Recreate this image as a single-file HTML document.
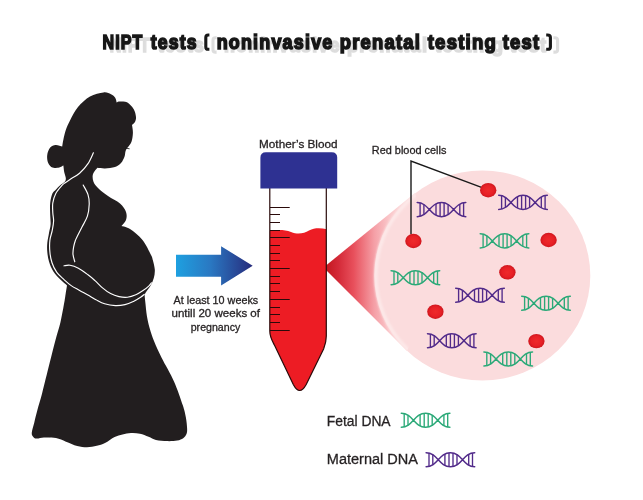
<!DOCTYPE html>
<html><head><meta charset="utf-8"><title>NIPT tests</title>
<style>html,body{margin:0;padding:0;background:#fff;}body{width:643px;height:500px;overflow:hidden;font-family:"Liberation Sans",sans-serif;}</style>
</head><body>
<svg width="643" height="500" viewBox="0 0 643 500" style="display:block;font-family:'Liberation Sans',sans-serif">
<defs>
<linearGradient id="ar" x1="0" x2="1" y1="0" y2="0"><stop offset="0" stop-color="#1ea0e0"/><stop offset="0.45" stop-color="#2a78c2"/><stop offset="1" stop-color="#272b7c"/></linearGradient>
<linearGradient id="cone" x1="324" x2="414" y1="0" y2="0" gradientUnits="userSpaceOnUse"><stop offset="0" stop-color="#c1141b"/><stop offset="0.16" stop-color="#d42a38"/><stop offset="0.33" stop-color="#e8505c"/><stop offset="0.56" stop-color="#f5a0a7"/><stop offset="0.72" stop-color="#fac6c9"/><stop offset="1" stop-color="#fde6e6"/></linearGradient>
<radialGradient id="cell" cx="0.5" cy="0.5" r="0.5"><stop offset="0" stop-color="#ee2a2b"/><stop offset="0.65" stop-color="#e82026"/><stop offset="1" stop-color="#cf171e"/></radialGradient>
<filter id="blur2" x="-5%" y="-5%" width="110%" height="110%"><feGaussianBlur stdDeviation="0.8"/></filter>
<filter id="blur" x="-5%" y="-30%" width="110%" height="160%"><feGaussianBlur stdDeviation="0.7"/></filter>
<clipPath id="coneclip"><path d="M323.5,267.5 L415,192.9 L440,275 L407.1,350.9 Z"/></clipPath>
<clipPath id="tube"><path d="M269.8,185 V331 C269.8,337 272,340.5 274.4,345 L293.3,384.5 Q299.6,396.5 306.2,384.5 L323.6,349 C325.4,344.5 326.3,341 326.3,336 V185 Z"/></clipPath>
</defs>
<rect width="643" height="500" fill="#ffffff"/>
<!-- title -->
<g filter="url(#blur)" opacity="0.9"><g transform="translate(7.2,2.8)" fill="none" stroke="#dadada" stroke-width="3.1"><path d="M209.4,35 H208.2 Q205.8,35 205.8,37.4 V46.9 Q205.8,49.3 208.2,49.3 H209.4"/><path d="M546.2,35 H547.6 Q550.4,35 550.4,37.4 V46.9 Q550.4,49.3 547.6,49.3 H546.2"/></g><text x="109.7" y="52.0" font-size="20.4" font-weight="bold" textLength="40.9" lengthAdjust="spacingAndGlyphs" letter-spacing="1.4" fill="#dadada" stroke="#dadada" stroke-width="1.6">NIPT</text><text x="157.9" y="52.0" font-size="20.4" font-weight="bold" textLength="47.1" lengthAdjust="spacingAndGlyphs" letter-spacing="1.4" fill="#dadada" stroke="#dadada" stroke-width="1.6">tests</text><text x="223.9" y="52.0" font-size="20.4" font-weight="bold" textLength="116.8" lengthAdjust="spacingAndGlyphs" letter-spacing="1.4" fill="#dadada" stroke="#dadada" stroke-width="1.6">noninvasive</text><text x="346.9" y="52.0" font-size="20.4" font-weight="bold" textLength="81.4" lengthAdjust="spacingAndGlyphs" letter-spacing="1.4" fill="#dadada" stroke="#dadada" stroke-width="1.6">prenatal</text><text x="434.9" y="52.0" font-size="20.4" font-weight="bold" textLength="69.4" lengthAdjust="spacingAndGlyphs" letter-spacing="1.4" fill="#dadada" stroke="#dadada" stroke-width="1.6">testing</text><text x="509.9" y="52.0" font-size="20.4" font-weight="bold" textLength="37.6" lengthAdjust="spacingAndGlyphs" letter-spacing="1.4" fill="#dadada" stroke="#dadada" stroke-width="1.6">test</text></g>
<g opacity="0.99"><g transform="translate(0.0,0.0)" fill="none" stroke="#151515" stroke-width="3.1"><path d="M209.4,35 H208.2 Q205.8,35 205.8,37.4 V46.9 Q205.8,49.3 208.2,49.3 H209.4"/><path d="M546.2,35 H547.6 Q550.4,35 550.4,37.4 V46.9 Q550.4,49.3 547.6,49.3 H546.2"/></g><text x="102.5" y="49.2" font-size="20.4" font-weight="bold" textLength="40.9" lengthAdjust="spacingAndGlyphs" letter-spacing="1.4" fill="#151515" stroke="#151515" stroke-width="1.6" stroke-linejoin="miter">NIPT</text><text x="150.7" y="49.2" font-size="20.4" font-weight="bold" textLength="47.1" lengthAdjust="spacingAndGlyphs" letter-spacing="1.4" fill="#151515" stroke="#151515" stroke-width="1.6" stroke-linejoin="miter">tests</text><text x="216.7" y="49.2" font-size="20.4" font-weight="bold" textLength="116.8" lengthAdjust="spacingAndGlyphs" letter-spacing="1.4" fill="#151515" stroke="#151515" stroke-width="1.6" stroke-linejoin="miter">noninvasive</text><text x="339.7" y="49.2" font-size="20.4" font-weight="bold" textLength="81.4" lengthAdjust="spacingAndGlyphs" letter-spacing="1.4" fill="#151515" stroke="#151515" stroke-width="1.6" stroke-linejoin="miter">prenatal</text><text x="427.7" y="49.2" font-size="20.4" font-weight="bold" textLength="69.4" lengthAdjust="spacingAndGlyphs" letter-spacing="1.4" fill="#151515" stroke="#151515" stroke-width="1.6" stroke-linejoin="miter">testing</text><text x="502.7" y="49.2" font-size="20.4" font-weight="bold" textLength="37.6" lengthAdjust="spacingAndGlyphs" letter-spacing="1.4" fill="#151515" stroke="#151515" stroke-width="1.6" stroke-linejoin="miter">test</text></g>
<!-- woman -->
<path d="M103.5,92.4 C107.0,92.0 109.0,93.3 111.0,94.2 C113.0,95.1 114.3,96.4 115.2,97.8 C116.1,99.2 116.4,101.6 116.6,102.4 C117.2,102.3 118.3,101.6 120.0,101.6 C121.7,101.6 124.7,101.0 127.0,102.2 C129.3,103.4 132.1,106.5 133.6,109.0 C135.1,111.5 135.8,114.7 136.0,117.0 C136.2,119.3 135.3,121.3 134.6,122.6 C133.9,123.9 132.4,124.6 132.0,125.0 C132.2,126.3 133.0,130.2 132.9,133.0 C132.8,135.8 132.3,139.6 131.4,142.0 C130.5,144.4 128.2,146.7 127.6,147.6 C127.3,148.2 126.1,149.4 125.6,151.0 C125.1,152.6 125.2,155.0 124.4,157.0 C123.6,159.0 122.6,161.3 121.0,163.0 C119.4,164.7 117.7,166.1 115.0,167.0 C112.3,167.9 107.9,168.4 105.0,168.5 C102.1,168.6 98.8,167.9 97.5,167.8 C96.8,168.8 93.7,171.7 93.0,174.0 C92.3,176.3 92.6,179.2 93.4,181.5 C94.2,183.8 95.6,185.6 98.0,188.0 C100.4,190.4 104.3,193.4 108.0,196.0 C111.7,198.6 117.0,200.8 120.0,203.5 C123.0,206.2 125.0,209.2 126.0,212.0 C127.0,214.8 126.8,217.7 126.0,220.0 C125.2,222.3 122.2,225.0 121.5,226.0 C122.9,226.5 126.5,226.7 130.0,229.0 C133.5,231.3 139.0,235.7 142.5,240.0 C146.0,244.3 149.3,251.7 151.0,255.0 C152.7,258.3 152.2,257.6 152.8,260.0 C153.4,262.4 154.6,266.6 154.8,269.6 C155.0,272.6 154.5,275.4 153.8,278.0 C153.1,280.6 152.0,283.0 150.8,285.2 C149.6,287.4 147.6,289.7 146.6,291.2 C145.6,292.7 144.9,293.9 144.6,294.4 C144.7,295.7 144.9,298.4 145.3,302.0 C145.7,305.6 146.2,311.7 146.9,316.0 C147.6,320.3 148.4,323.7 149.6,328.0 C150.8,332.3 152.2,336.7 154.2,341.6 C156.2,346.6 158.3,351.1 161.6,357.7 C164.9,364.3 170.5,373.5 174.0,381.4 C177.5,389.3 180.7,399.0 182.7,405.0 C184.7,411.0 185.2,413.6 185.9,417.5 C186.6,421.4 187.0,425.6 187.1,428.3 C187.2,431.0 187.2,432.2 186.6,433.8 C185.9,435.4 184.8,437.1 183.2,438.2 C181.6,439.3 179.9,440.0 177.2,440.5 C174.5,441.0 170.7,441.2 167.2,441.1 C163.7,441.0 159.1,440.6 156.0,439.9 C152.9,439.2 151.3,437.7 148.6,436.7 C145.9,435.7 142.9,434.3 140.0,433.7 C137.1,433.1 133.9,433.0 131.0,433.1 C128.1,433.2 125.2,433.8 122.5,434.4 C119.8,435.0 117.5,435.6 114.6,437.0 C111.7,438.4 108.0,441.5 105.0,443.0 C102.0,444.5 99.8,445.1 96.8,445.8 C93.8,446.5 90.3,447.3 87.0,447.3 C83.7,447.3 80.7,446.9 77.2,446.0 C73.7,445.1 69.5,443.0 66.0,441.7 C62.5,440.4 59.7,438.8 56.0,438.1 C52.3,437.4 47.2,437.4 44.0,437.5 C40.8,437.6 38.4,438.8 36.5,438.6 C34.6,438.4 33.7,437.4 32.9,436.4 C32.1,435.4 31.6,434.8 31.8,432.5 C32.0,430.2 33.4,426.1 34.3,422.4 C35.2,418.6 36.1,414.9 37.4,410.0 C38.7,405.1 40.2,400.7 42.2,393.0 C44.2,385.3 47.3,372.4 49.5,363.6 C51.7,354.8 53.7,346.8 55.5,340.0 C57.3,333.2 58.9,329.1 60.4,322.6 C61.9,316.1 63.7,305.8 64.6,300.8 C65.5,295.8 65.4,295.4 65.8,292.8 C66.2,290.2 66.8,286.6 67.0,285.4 C65.9,284.4 62.7,282.0 60.4,279.6 C58.1,277.2 55.1,274.2 53.2,271.2 C51.3,268.2 50.0,264.8 49.0,261.6 C48.0,258.4 47.6,255.1 47.3,252.0 C47.0,248.9 47.0,246.2 47.3,243.0 C47.6,239.8 48.5,236.1 49.0,233.0 C49.5,229.9 50.4,227.6 50.6,224.6 C50.8,221.6 50.3,218.6 50.2,215.0 C50.1,211.4 49.8,206.6 50.2,203.0 C50.6,199.4 51.4,195.9 52.4,193.6 C53.4,191.3 54.7,190.8 56.0,189.4 C57.3,188.0 58.7,186.5 60.2,185.2 C61.7,183.9 63.9,183.0 64.8,181.8 C65.7,180.6 65.9,179.6 65.8,178.0 C65.7,176.4 64.6,174.1 64.2,172.0 C63.8,169.9 63.5,166.7 63.4,165.6 C62.7,165.9 61.0,167.1 59.2,167.4 C57.4,167.7 54.3,168.3 52.5,167.6 C50.7,166.9 49.1,165.1 48.2,163.0 C47.3,160.9 46.9,157.8 47.2,155.2 C47.5,152.6 48.8,149.3 50.2,147.6 C51.6,145.9 53.6,145.2 55.6,145.0 C57.6,144.8 61.1,146.3 62.2,146.6 C62.4,145.4 62.8,142.4 63.4,139.6 C64.0,136.8 64.7,133.2 65.8,130.0 C66.9,126.8 68.0,124.3 70.0,120.5 C72.0,116.7 74.7,111.0 78.0,107.0 C81.3,103.0 85.8,98.9 90.0,96.5 C94.2,94.1 100.0,92.8 103.5,92.4Z" fill="#221e1f"/>
<g fill="none" stroke="#ffffff" stroke-width="1.15" stroke-linecap="round">
<path d="M93.4,152.8 C92.5,154.6 90.3,160.2 88.0,163.6 C85.7,167.0 82.6,170.6 79.6,173.2 C76.6,175.8 72.5,177.8 70.0,179.4 C67.5,181.0 66.1,182.0 64.8,183.0 C63.5,184.0 63.5,183.7 62.0,185.4 C60.5,187.1 57.3,190.5 55.8,193.4 C54.3,196.3 53.3,199.8 52.8,203.0 C52.3,206.2 52.7,209.6 52.8,212.6 C52.9,215.6 53.7,218.0 53.6,221.0 C53.5,224.0 52.8,227.4 52.2,230.6 C51.6,233.8 50.3,236.6 49.9,240.2 C49.5,243.8 49.5,248.2 49.9,252.0 C50.2,255.8 50.9,259.4 52.0,262.8 C53.1,266.2 54.8,269.6 56.8,272.4 C58.8,275.2 61.6,277.4 64.0,279.6 C66.4,281.8 68.6,283.8 71.2,285.6 C73.8,287.4 76.4,288.6 79.6,290.4 C82.8,292.2 87.7,294.8 90.4,296.4 C93.1,298.0 93.6,298.6 96.0,299.8 C98.4,301.0 101.4,302.8 104.6,303.8 C107.8,304.8 112.0,305.5 115.4,305.6 C118.8,305.7 122.0,305.3 125.0,304.6 C128.0,303.9 130.8,302.6 133.4,301.4 C136.0,300.2 138.8,298.4 140.6,297.2 C142.4,296.0 143.6,294.9 144.2,294.4"/>
<path d="M83.2,185.0 C84.0,186.6 87.0,191.4 88.0,194.6 C89.0,197.8 89.3,200.6 89.2,204.2 C89.1,207.8 88.6,212.4 87.4,216.2 C86.2,220.0 83.7,223.6 82.0,227.0 C80.3,230.4 78.3,234.3 77.2,236.6 C76.1,238.9 75.8,239.2 75.2,241.0 C74.6,242.8 74.0,245.0 73.6,247.2 C73.2,249.4 72.8,252.0 73.0,254.4 C73.2,256.8 74.5,260.6 74.8,261.8"/>
<path d="M64.0,265.8 C65.0,265.7 67.6,264.8 70.0,265.2 C72.4,265.6 75.4,266.6 78.4,268.2 C81.4,269.8 85.2,272.7 88.0,274.8 C90.8,276.9 92.6,278.5 95.0,280.6 C97.4,282.7 99.6,285.4 102.2,287.6 C104.8,289.8 107.8,292.1 110.6,293.6 C113.4,295.1 116.2,296.0 119.0,296.6 C121.8,297.2 124.6,297.5 127.4,297.2 C130.2,296.9 133.2,295.9 135.8,294.8 C138.4,293.7 140.8,292.1 143.0,290.6 C145.2,289.1 147.6,287.1 149.0,285.8 C150.4,284.5 151.0,283.3 151.4,282.8"/>
</g>
<path d="M125.5,148.1 L129.6,148.8" stroke="#151515" stroke-width="0.8" fill="none"/>
<!-- arrow -->
<path d="M176,254.8 H221.1 V246.2 L252.7,265.8 L221.1,285.5 V276.8 H176 Z" fill="url(#ar)"/>
<g fill="#231f20" stroke="#231f20" stroke-width="0.3" opacity="0.99">
<text x="173.6" y="303.5" font-size="10.4" font-weight="normal" textLength="84.6" lengthAdjust="spacingAndGlyphs" >At least 10 weeks</text>
<text x="171.5" y="317.2" font-size="10.4" font-weight="normal" textLength="88.5" lengthAdjust="spacingAndGlyphs" >untill 20 weeks of</text>
<text x="190.7" y="330.9" font-size="10.4" font-weight="normal" textLength="49.6" lengthAdjust="spacingAndGlyphs" >pregnancy</text>
<text x="259.1" y="148.0" font-size="10.6" font-weight="normal" textLength="78.4" lengthAdjust="spacingAndGlyphs" >Mother&#8217;s Blood</text>
<text x="371.8" y="154.0" font-size="10.6" font-weight="normal" textLength="74.6" lengthAdjust="spacingAndGlyphs" >Red blood cells</text>
<text x="326.8" y="426.3" font-size="14.0" font-weight="normal" textLength="63.8" lengthAdjust="spacingAndGlyphs" >Fetal DNA</text>
<text x="326.8" y="464.4" font-size="14.0" font-weight="normal" textLength="91.2" lengthAdjust="spacingAndGlyphs" >Maternal DNA</text>
</g>
<!-- circle + cone -->
<path d="M323.5,267.5 L415,192.9 L440,275 L407.1,350.9 Z" fill="url(#cone)"/>
<ellipse cx="482.3" cy="275.5" rx="108" ry="105" fill="#fbdcdd"/>
<ellipse cx="482.3" cy="275.5" rx="106.5" ry="103.5" fill="none" stroke="#fde9e9" stroke-width="3.4" clip-path="url(#coneclip)" filter="url(#blur2)"/>
<!-- tube -->
<path d="M269.8,185 V331 C269.8,337 272,340.5 274.4,345 L293.3,384.5 Q299.6,396.5 306.2,384.5 L323.6,349 C325.4,344.5 326.3,341 326.3,336 V185 Z" fill="#ffffff"/>
<g clip-path="url(#tube)"><path d="M268,231.5 C276,229.5 284,229.5 291,232 C298,234.8 304,233.5 309,230.5 C315,227.5 321,228 328,229.5 V395 H268 Z" fill="#ed1c24"/></g>
<path d="M269.8,185 V331 C269.8,337 272,340.5 274.4,345 L293.3,384.5 Q299.6,396.5 306.2,384.5 L323.6,349 C325.4,344.5 326.3,341 326.3,336 V185" fill="none" stroke="#2a0a0a" stroke-width="1.2"/>
<path d="M270,207.5 h19.7M270,214.5 h10.0M270,222.5 h10.0M270,230.5 h10.0M270,237.5 h19.7M270,245.5 h10.0M270,253.5 h10.0M270,260.5 h10.0M270,268.5 h19.7M270,276.5 h10.0M270,283.5 h10.0M270,291.5 h10.0M270,299.5 h19.7M270,307.5 h10.0M270,314.5 h10.0M270,322.5 h10.0M270,330.5 h19.7" stroke="#2a0a0a" stroke-width="1.1" fill="none"/>
<path d="M260.4,188.5 V157.8 Q260.4,152.3 265.9,152.3 H331.7 Q337.2,152.3 337.2,157.8 V188.5 Z" fill="#2e3192"/>
<!-- pointers -->
<path d="M411,234 V161 L481.5,187.3" fill="none" stroke="#1a1a1a" stroke-width="1.4"/>
<g fill="url(#cell)"><ellipse cx="488.2" cy="190.2" rx="8.2" ry="7.2"/><ellipse cx="413.4" cy="241.0" rx="8.2" ry="7.2"/><ellipse cx="548.6" cy="240.0" rx="8.2" ry="7.2"/><ellipse cx="507.4" cy="272.3" rx="8.2" ry="7.2"/><ellipse cx="435.4" cy="311.7" rx="8.2" ry="7.2"/><ellipse cx="536.4" cy="341.1" rx="8.2" ry="7.2"/></g>
<path d="M417.20,202.55 C428.62,202.55 430.08,216.65 441.50,216.65 S454.38,202.55 465.80,202.55 M417.20,216.65 C428.62,216.65 430.08,202.55 441.50,202.55 S454.38,216.65 465.80,216.65" fill="none" stroke="#522b8a" stroke-width="1.5" stroke-linecap="round"/><path d="M420.10,202.88 v13.43M423.90,204.55 v10.11M436.00,203.85 v11.50M440.10,202.62 v13.95M444.10,202.81 v13.57M448.10,204.48 v10.24M459.80,204.12 v10.96M463.60,202.74 v13.73" fill="none" stroke="#522b8a" stroke-width="1.35"/><path d="M498.70,195.35 C510.12,195.35 511.58,209.45 523.00,209.45 S535.88,195.35 547.30,195.35 M498.70,209.45 C510.12,209.45 511.58,195.35 523.00,195.35 S535.88,209.45 547.30,209.45" fill="none" stroke="#522b8a" stroke-width="1.5" stroke-linecap="round"/><path d="M501.60,195.68 v13.43M505.40,197.35 v10.11M517.50,196.65 v11.50M521.60,195.42 v13.95M525.60,195.61 v13.57M529.60,197.28 v10.24M541.30,196.92 v10.96M545.10,195.54 v13.73" fill="none" stroke="#522b8a" stroke-width="1.35"/><path d="M480.20,233.85 C491.62,233.85 493.08,247.95 504.50,247.95 S517.38,233.85 528.80,233.85 M480.20,247.95 C491.62,247.95 493.08,233.85 504.50,233.85 S517.38,247.95 528.80,247.95" fill="none" stroke="#2ba978" stroke-width="1.5" stroke-linecap="round"/><path d="M483.10,234.18 v13.43M486.90,235.85 v10.11M499.00,235.15 v11.50M503.10,233.92 v13.95M507.10,234.11 v13.57M511.10,235.78 v10.24M522.80,235.42 v10.96M526.60,234.04 v13.73" fill="none" stroke="#2ba978" stroke-width="1.35"/><path d="M391.10,270.65 C402.52,270.65 403.98,284.75 415.40,284.75 S428.28,270.65 439.70,270.65 M391.10,284.75 C402.52,284.75 403.98,270.65 415.40,270.65 S428.28,284.75 439.70,284.75" fill="none" stroke="#2ba978" stroke-width="1.5" stroke-linecap="round"/><path d="M394.00,270.98 v13.43M397.80,272.65 v10.11M409.90,271.95 v11.50M414.00,270.72 v13.95M418.00,270.91 v13.57M422.00,272.58 v10.24M433.70,272.22 v10.96M437.50,270.84 v13.73" fill="none" stroke="#2ba978" stroke-width="1.35"/><path d="M455.70,288.25 C467.12,288.25 468.58,302.35 480.00,302.35 S492.88,288.25 504.30,288.25 M455.70,302.35 C467.12,302.35 468.58,288.25 480.00,288.25 S492.88,302.35 504.30,302.35" fill="none" stroke="#522b8a" stroke-width="1.5" stroke-linecap="round"/><path d="M458.60,288.58 v13.43M462.40,290.25 v10.11M474.50,289.55 v11.50M478.60,288.32 v13.95M482.60,288.51 v13.57M486.60,290.18 v10.24M498.30,289.82 v10.96M502.10,288.44 v13.73" fill="none" stroke="#522b8a" stroke-width="1.35"/><path d="M521.70,296.15 C533.12,296.15 534.58,310.25 546.00,310.25 S558.88,296.15 570.30,296.15 M521.70,310.25 C533.12,310.25 534.58,296.15 546.00,296.15 S558.88,310.25 570.30,310.25" fill="none" stroke="#2ba978" stroke-width="1.5" stroke-linecap="round"/><path d="M524.60,296.48 v13.43M528.40,298.15 v10.11M540.50,297.45 v11.50M544.60,296.22 v13.95M548.60,296.41 v13.57M552.60,298.08 v10.24M564.30,297.72 v10.96M568.10,296.34 v13.73" fill="none" stroke="#2ba978" stroke-width="1.35"/><path d="M427.50,333.75 C438.92,333.75 440.38,347.85 451.80,347.85 S464.68,333.75 476.10,333.75 M427.50,347.85 C438.92,347.85 440.38,333.75 451.80,333.75 S464.68,347.85 476.10,347.85" fill="none" stroke="#522b8a" stroke-width="1.5" stroke-linecap="round"/><path d="M430.40,334.08 v13.43M434.20,335.75 v10.11M446.30,335.05 v11.50M450.40,333.82 v13.95M454.40,334.01 v13.57M458.40,335.68 v10.24M470.10,335.32 v10.96M473.90,333.94 v13.73" fill="none" stroke="#522b8a" stroke-width="1.35"/><path d="M483.90,351.95 C495.32,351.95 496.78,366.05 508.20,366.05 S521.08,351.95 532.50,351.95 M483.90,366.05 C495.32,366.05 496.78,351.95 508.20,351.95 S521.08,366.05 532.50,366.05" fill="none" stroke="#2ba978" stroke-width="1.5" stroke-linecap="round"/><path d="M486.80,352.28 v13.43M490.60,353.95 v10.11M502.70,353.25 v11.50M506.80,352.02 v13.95M510.80,352.21 v13.57M514.80,353.88 v10.24M526.50,353.52 v10.96M530.30,352.14 v13.73" fill="none" stroke="#2ba978" stroke-width="1.35"/><path d="M401.30,413.25 C412.72,413.25 414.18,427.35 425.60,427.35 S438.48,413.25 449.90,413.25 M401.30,427.35 C412.72,427.35 414.18,413.25 425.60,413.25 S438.48,427.35 449.90,427.35" fill="none" stroke="#2ba978" stroke-width="1.5" stroke-linecap="round"/><path d="M404.20,413.58 v13.43M408.00,415.25 v10.11M420.10,414.55 v11.50M424.20,413.32 v13.95M428.20,413.51 v13.57M432.20,415.18 v10.24M443.90,414.82 v10.96M447.70,413.44 v13.73" fill="none" stroke="#2ba978" stroke-width="1.35"/><path d="M426.10,452.75 C437.52,452.75 438.98,466.85 450.40,466.85 S463.28,452.75 474.70,452.75 M426.10,466.85 C437.52,466.85 438.98,452.75 450.40,452.75 S463.28,466.85 474.70,466.85" fill="none" stroke="#522b8a" stroke-width="1.5" stroke-linecap="round"/><path d="M429.00,453.08 v13.43M432.80,454.75 v10.11M444.90,454.05 v11.50M449.00,452.82 v13.95M453.00,453.01 v13.57M457.00,454.68 v10.24M468.70,454.32 v10.96M472.50,452.94 v13.73" fill="none" stroke="#522b8a" stroke-width="1.35"/>
</svg>
</body></html>
